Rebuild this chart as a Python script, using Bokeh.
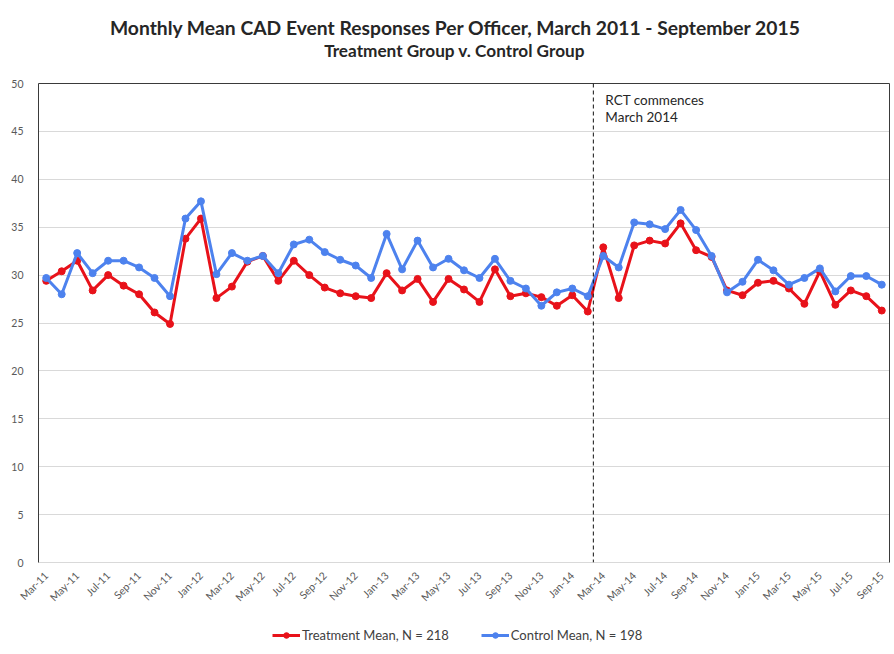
from bokeh.plotting import figure
from bokeh.layouts import column
from bokeh.models import (Range1d, FixedTicker, LinearAxis, Span, Label,
                          Legend, LegendItem)
from bokeh.embed import file_html
from bokeh.resources import INLINE

# ---- data ----
tick_labels = ["Mar-11", "May-11", "Jul-11", "Sep-11", "Nov-11", "Jan-12", "Mar-12",
               "May-12", "Jul-12", "Sep-12", "Nov-12", "Jan-13", "Mar-13", "May-13",
               "Jul-13", "Sep-13", "Nov-13", "Jan-14", "Mar-14", "May-14", "Jul-14",
               "Sep-14", "Nov-14", "Jan-15", "Mar-15", "May-15", "Jul-15", "Sep-15"]

treatment = [29.4, 30.4, 31.5, 28.4, 30.0, 28.9, 28.0, 26.1, 24.9, 33.8,
             35.9, 27.6, 28.8, 31.4, 32.0, 29.4, 31.5, 30.0, 28.7, 28.1,
             27.8, 27.6, 30.2, 28.4, 29.6, 27.2, 29.6, 28.5, 27.2, 30.6,
             27.8, 28.1, 27.7, 26.8, 27.9, 26.2, 32.9, 27.6, 33.1, 33.6,
             33.3, 35.4, 32.6, 31.9, 28.4, 27.9, 29.2, 29.4, 28.6, 27.0,
             30.4, 26.9, 28.4, 27.8, 26.3]

control = [29.7, 28.0, 32.3, 30.2, 31.5, 31.5, 30.8, 29.7, 27.8, 35.9,
           37.7, 30.1, 32.3, 31.5, 32.0, 30.2, 33.2, 33.7, 32.4, 31.6,
           31.0, 29.7, 34.3, 30.6, 33.6, 30.8, 31.7, 30.5, 29.7, 31.7,
           29.4, 28.6, 26.8, 28.2, 28.6, 27.8, 32.0, 30.8, 35.5, 35.3,
           34.8, 36.8, 34.7, 32.0, 28.2, 29.3, 31.6, 30.5, 29.0, 29.7,
           30.7, 28.3, 29.9, 29.9, 29.0]

series_names = ["Treatment Mean, N = 218", "Control Mean, N = 198"]

months_idx = list(range(len(treatment)))
tick_idx = months_idx[::2]
rct_x = 35.36  # RCT commencement marker, between Feb-14 and Mar-14

title_text = "Monthly Mean CAD Event Responses Per Officer, March 2011 - September 2015"
subtitle_text = "Treatment Group v. Control Group"

RED = "#E8121A"
BLUE = "#4D82EE"
FONT = "Lato"
FRAME_W = 851
LEFT = 38
RIGHT = 3
HEAD_H = 75
FOOT_H = 40

common = dict(output_backend="svg", toolbar_location=None, frame_width=FRAME_W,
              min_border_left=LEFT, min_border_right=RIGHT)

# ---- heading strip (title + subtitle) ----
head = figure(frame_height=HEAD_H, x_range=Range1d(0, FRAME_W), y_range=Range1d(0, HEAD_H),
              min_border_top=0, min_border_bottom=0,
              x_axis_location=None, y_axis_location=None, **common)
head.grid.visible = False
head.outline_line_color = None
head.title = None
head.add_layout(Label(x=455 - LEFT, y=HEAD_H - 27, text=title_text, text_align="center",
                      text_baseline="middle", text_font=FONT, text_font_size="19.3px",
                      text_font_style="bold", text_color="#262626"))
head.add_layout(Label(x=454 - LEFT, y=HEAD_H - 50, text=subtitle_text, text_align="center",
                      text_baseline="middle", text_font=FONT, text_font_size="17.2px",
                      text_font_style="bold", text_color="#262626"))

# ---- main chart ----
x_lo, x_hi = -0.5, len(treatment) - 0.5
p = figure(frame_height=479, x_range=Range1d(x_lo, x_hi), y_range=Range1d(0, 50),
           min_border_top=8, min_border_bottom=45, **common)
p.title = None
p.outline_line_color = None

p.xaxis.ticker = FixedTicker(ticks=tick_idx)
p.xaxis.major_label_overrides = {i: l for i, l in zip(tick_idx, tick_labels)}
p.xaxis.major_label_orientation = 0.785398
p.xaxis.major_label_text_font = FONT
p.xaxis.major_label_text_font_size = "10.5px"
p.xaxis.major_label_text_color = "#595959"
p.xaxis.major_tick_line_color = None
p.xaxis.minor_tick_line_color = None
p.xaxis.axis_line_color = "#d9d9d9"
p.xaxis.major_label_standoff = 5

p.yaxis.ticker = FixedTicker(ticks=list(range(0, 51, 5)))
p.yaxis.major_label_text_font = FONT
p.yaxis.major_label_text_font_size = "10.5px"
p.yaxis.major_label_text_color = "#595959"
p.yaxis.major_tick_line_color = None
p.yaxis.minor_tick_line_color = None
p.yaxis.axis_line_color = "#3a3a3a"
p.yaxis.major_label_standoff = 9

p.xgrid.grid_line_color = None
p.ygrid.ticker = FixedTicker(ticks=list(range(0, 51, 5)))
p.ygrid.grid_line_color = "#d9d9d9"

for side in ("right", "above"):
    ax = LinearAxis(major_tick_line_color=None, minor_tick_line_color=None,
                    major_label_text_font_size="0px", axis_line_color="#3a3a3a",
                    ticker=FixedTicker(ticks=[]), major_label_standoff=0)
    p.add_layout(ax, side)

# RCT marker
p.add_layout(Span(location=rct_x, dimension="height", line_color="#111111",
                  line_width=1, line_dash="4 3"))
p.add_layout(Label(x=rct_x, y=50, text="RCT commences", x_offset=12, y_offset=-16,
                   text_baseline="middle", text_font=FONT, text_font_size="13.5px",
                   text_color="#262626"))
p.add_layout(Label(x=rct_x, y=50, text="March 2014", x_offset=12, y_offset=-33,
                   text_baseline="middle", text_font=FONT, text_font_size="13.5px",
                   text_color="#262626"))

# series
p.line(months_idx, treatment, line_color=RED, line_width=3)
p.scatter(months_idx, treatment, size=7, fill_color=RED, line_color=RED)
p.line(months_idx, control, line_color=BLUE, line_width=3)
p.scatter(months_idx, control, size=7, fill_color=BLUE, line_color=BLUE)

# ---- legend strip (series drawn out of view; only the legend shows) ----
foot = figure(frame_height=FOOT_H, x_range=Range1d(0, FRAME_W), y_range=Range1d(1000, 1040),
              min_border_top=0, min_border_bottom=0,
              x_axis_location=None, y_axis_location=None, **common)
foot.grid.visible = False
foot.outline_line_color = None
foot.title = None
items = []
for name, vals, col in zip(series_names, [treatment, control], [RED, BLUE]):
    lr = foot.line(months_idx, vals, line_color=col, line_width=3)
    sr = foot.scatter(months_idx, vals, size=7, fill_color=col, line_color=col)
    items.append(LegendItem(label=name, renderers=[lr, sr]))
legend = Legend(items=items, orientation="horizontal", location=(272 - LEFT, 7),
                label_text_font=FONT, label_text_font_size="13px",
                label_text_color="#404040", glyph_width=28, glyph_height=14,
                label_height=14, label_standoff=2, spacing=32,
                border_line_color=None, background_fill_alpha=0,
                padding=0, margin=0)
foot.add_layout(legend)

open("out.html", "w").write(file_html(column(head, p, foot, spacing=0), INLINE))
